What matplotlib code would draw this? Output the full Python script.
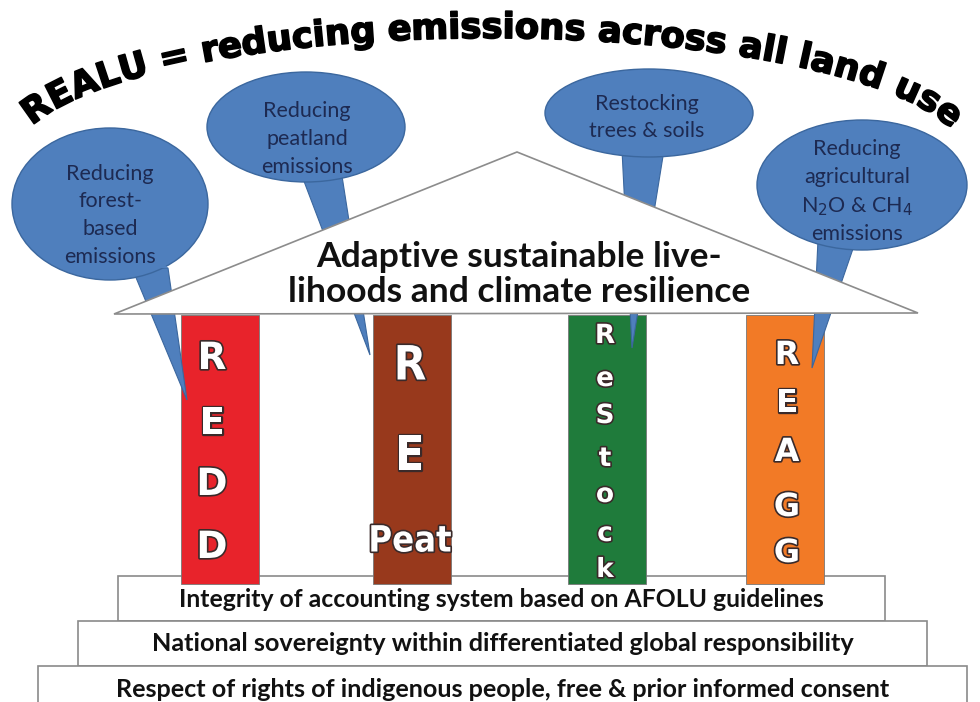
import numpy as np
import matplotlib
matplotlib.use("Agg")
import matplotlib.pyplot as plt
from matplotlib.patches import Ellipse, Polygon, Rectangle
from matplotlib.font_manager import FontProperties
import matplotlib.patheffects as pe

# ---- content ----
title = "REALU = reducing emissions across all land use"
roof_lines = ["Adaptive sustainable live-", "lihoods and climate resilience"]
bubble_texts = [
    ["Reducing", "forest-", "based", "emissions"],
    ["Reducing", "peatland", "emissions"],
    ["Restocking", "trees & soils"],
    ["Reducing", "agricultural", r"N$_2$O & CH$_4$", "emissions"],
]
pillar_words = [list("REDD"), ["R", "E", "Peat"], list("ReStock"), list("REAGG")]
pillar_colors = ["#e8232b", "#98391c", "#1f7b3b", "#f27a26"]
step_labels = [
    "Integrity of accounting system based on AFOLU guidelines",
    "National sovereignty within differentiated global responsibility",
    "Respect of rights of indigenous people, free & prior informed consent",
]

W, H = 980, 702
fig = plt.figure(figsize=(W / 100, H / 100), dpi=100)
ax = fig.add_axes([0, 0, 1, 1])
ax.set_xlim(0, W)
ax.set_ylim(H, 0)
ax.axis("off")
fig.canvas.draw()
rend = fig.canvas.get_renderer()


def fit(t, width):
    bb = t.get_window_extent(rend)
    t.set_fontsize(t.get_fontsize() * width / bb.width)


# ---- steps (bottom up) ----
step_boxes = [(118, 576, 885, 621), (78, 621, 927, 666), (38, 666, 967, 712)]
step_base = [607, 651, 697]
step_w = [648, 706, 776]
for (x0, y0, x1, y1), lab, yb, sw in zip(step_boxes, step_labels, step_base, step_w):
    ax.add_patch(Rectangle((x0, y0), x1 - x0, y1 - y0, fc="white", ec="#8a8a8a", lw=1.2, zorder=1))
    t = ax.text((x0 + x1) / 2, yb, lab, ha="center", va="baseline", family="Lato",
                weight="bold", fontsize=15, color="#111111", zorder=2)
    fit(t, sw)

# ---- pillars ----
pil_x = [181, 373, 568, 746]
pil_w = 78
pil_cx = [212, 410, 605, 787]
letter_y = [[355, 420, 481, 544], [362, 452, 538], [333, 376, 413, 456, 492, 531, 567],
            [352, 400, 449, 504, 550]]
letter_fs = [27, 34, 19, 23]
outline = [pe.withStroke(linewidth=2.4, foreground="#3a2a2a")]
for i, (x, col) in enumerate(zip(pil_x, pillar_colors)):
    ax.add_patch(Rectangle((x, 315), pil_w, 584 - 315, fc=col, ec="#777777", lw=0.6, zorder=3))
    for s, y in zip(pillar_words[i], letter_y[i]):
        if i == 1:
            fp = FontProperties(family="DejaVu Sans", stretch="condensed", weight="bold",
                                size=letter_fs[i] if s != "Peat" else 26)
        else:
            fp = FontProperties(family="DejaVu Sans", weight="heavy", size=letter_fs[i])
        ax.text(pil_cx[i], y, s, fontproperties=fp, ha="center", va="center_baseline",
                color="white", zorder=4, path_effects=outline)

# ---- bubbles ----
bubbles = [
    dict(c=(110, 204), w=196, h=152, tail=[(132, 268), (168, 268), (187, 400)]),
    dict(c=(306, 127), w=198, h=110, tail=[(302, 176), (342, 176), (370, 355)]),
    dict(c=(649, 113), w=208, h=88, tail=[(622, 150), (664, 150), (632, 348)]),
    dict(c=(862, 185), w=210, h=130, tail=[(818, 240), (856, 240), (812, 368)]),
]
blue, blue_edge = "#4f7fbd", "#3b679e"
for b in bubbles:
    ax.add_patch(Polygon(b["tail"], closed=True, fc=blue, ec=blue_edge, lw=0.8, zorder=5))
    ax.add_patch(Ellipse(b["c"], b["w"], b["h"], fc=blue, ec=blue_edge, lw=1, zorder=8))
    ax.add_patch(Polygon(b["tail"][:2] + [((b["tail"][0][0] + b["tail"][1][0]) / 2, b["tail"][0][1] - 20)],
                         closed=True, fc=blue, ec="none", zorder=8))

bubble_base = [[180, 207, 235, 263], [117, 145, 173], [110, 137], [155, 183, 212, 240]]
bubble_cx = [110, 307, 647, 857]
for lines, ys, cx in zip(bubble_texts, bubble_base, bubble_cx):
    for s, y in zip(lines, ys):
        ax.text(cx, y, s, ha="center", va="baseline", family="Lato", fontsize=15.5,
                color="#1d2a52", zorder=9)

# ---- roof ----
roof = [(114, 314), (517, 152), (918, 313)]
ax.add_patch(Polygon(roof, closed=True, fc="white", ec="#8c8c8c", lw=1.2, zorder=6))
for s, y, w in zip(roof_lines, [267, 302], [404, 462]):
    t = ax.text(519, y, s, ha="center", va="baseline", family="Lato", weight="bold",
                fontsize=22, color="#111111", zorder=7)
    fit(t, w)

# ---- arched title ----
cxe, cye, a, b = 490, 158, 475, 120
tt = np.linspace(np.pi, 0, 6000)
px = cxe + a * np.cos(tt)
py = cye - b * np.sin(tt)
arc = np.concatenate([[0], np.cumsum(np.hypot(np.diff(px), np.diff(py)))])
s_start = np.interp(32, px, arc)
s_end = arc[np.searchsorted(px, 950)]


def tw(s, p):
    return rend.get_text_width_height_descent(s, p, ismath=False)[0]


def adv(c, p):
    return tw("X" + c + "X", p) - tw("XX", p)


fs = 22
prop = FontProperties(family="DejaVu Sans", weight="bold", size=fs)
fs = fs * (s_end - s_start) / sum(adv(c, prop) for c in title)
prop = FontProperties(family="DejaVu Sans", weight="bold", size=fs)
heavy = [pe.withStroke(linewidth=1.2, foreground="black")]
pos = s_start
for c in title:
    w = adv(c, prop)
    sc = pos + w / 2
    pos += w
    if c == " ":
        continue
    k = min(max(np.searchsorted(arc, sc), 1), len(arc) - 1)
    xc, yc = np.interp(sc, arc, px), np.interp(sc, arc, py)
    ang = np.degrees(np.arctan2(-(py[k] - py[k - 1]), px[k] - px[k - 1]))
    ax.text(xc, yc, c, fontproperties=prop, ha="center", va="baseline",
            rotation=ang, rotation_mode="anchor", color="black", zorder=10,
            path_effects=heavy)

fig.savefig("out.png", dpi=100)
